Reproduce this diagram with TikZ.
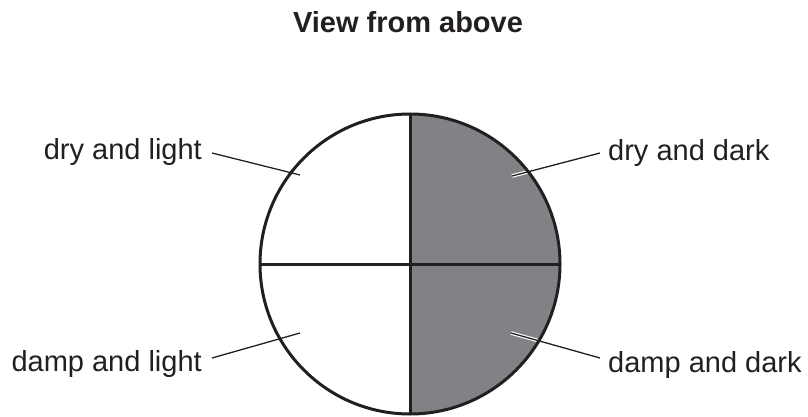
\documentclass[tikz,border=0pt]{standalone}
\usepackage{fontspec}
\setmainfont{Liberation Sans}
\definecolor{ink}{RGB}{35,31,32}
\definecolor{diskgrey}{RGB}{128,130,133}
\begin{document}
\begin{tikzpicture}[x=1pt,y=-1pt,
  lbl/.style={inner sep=0pt,text=ink,font=\fontsize{29}{34}\selectfont},
  ttl/.style={inner sep=0pt,text=ink,font=\fontsize{29}{34}\selectfont\bfseries},
  leader/.style={draw=ink,line width=1.3pt},
  halo/.style={draw=white,line width=3.6pt},
  outline/.style={draw=ink,line width=3pt}]
\useasboundingbox (0,0) rectangle (808,417);
\coordinate (c) at (410,264);
% grey right half
\begin{scope}
  \clip (c) circle[radius=150pt];
  \fill[fill=diskgrey] (410,100) rectangle (570,430);
\end{scope}
% labels
\node[ttl,anchor=base] (title) at (408,33) {View from above};
\node[lbl,anchor=base east] (dl) at (202,159) {dry and light};
\node[lbl,anchor=base west] (dd) at (608,160) {dry and dark};
\node[lbl,anchor=base east] (ml) at (202,371) {damp and light};
\node[lbl,anchor=base west] (md) at (608,372) {damp and dark};
% inner leader ends
\coordinate (dli) at (300,175);
\coordinate (ddi) at (512,176);
\coordinate (mli) at (300,333);
\coordinate (mdi) at (511,333);
% halos on the grey side
\draw[halo] ([shift={(-8pt,7pt)}]dd.base west) -- (ddi);
\draw[halo] ([shift={(-8pt,14pt)}]md.base west) -- (mdi);
% disc outline and cross
\draw[outline] (c) circle[radius=150pt];
\draw[outline] (410,114) -- (410,414);
\draw[outline] (260,264) -- (560,264);
% leaders
\draw[leader] ([shift={(10pt,6pt)}]dl.base east) -- (dli);
\draw[leader] ([shift={(-8pt,7pt)}]dd.base west) -- (ddi);
\draw[leader] ([shift={(10pt,13pt)}]ml.base east) -- (mli);
\draw[leader] ([shift={(-8pt,14pt)}]md.base west) -- (mdi);
\end{tikzpicture}
\end{document}
